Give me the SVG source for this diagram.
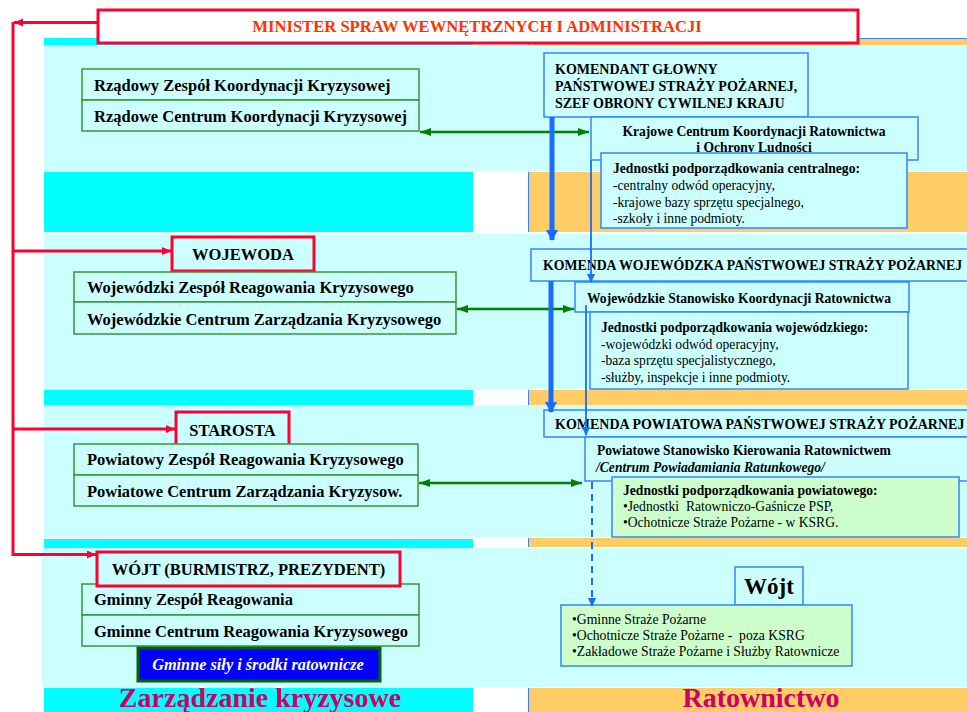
<svg xmlns="http://www.w3.org/2000/svg" width="967" height="712" viewBox="0 0 967 712">
<style>
.lc{fill:#CCFFFF}
.cy{fill:#00FFFF}
.or{fill:#FFCC66}
.gb{fill:#CCFFFF;stroke:#339933;stroke-width:1.5}
.rb{fill:#CCFFFF;stroke:#FF0033;stroke-width:3}
.bb{fill:#CCFFFF;stroke:#3385FF;stroke-width:1.5}
.bg{fill:#CCFFCC;stroke:#3385FF;stroke-width:1.5}
.t16{font:bold 16.5px "Liberation Serif","Times New Roman",serif;fill:#000}
.c14{font:bold 14px "Liberation Serif","Times New Roman",serif;fill:#000}
.b13{font:bold 13.6px "Liberation Serif","Times New Roman",serif;fill:#000}
.r13{font:13.6px "Liberation Serif","Times New Roman",serif;fill:#000;white-space:pre}
.r12{font:13.7px "Liberation Serif","Times New Roman",serif;fill:#000;white-space:pre}
.mid{text-anchor:middle}
.red{fill:none;stroke:#FF0033;stroke-width:3}
.grn{fill:none;stroke:#008000;stroke-width:2.5}
.blt{fill:none;stroke:#1A6CFF;stroke-width:5}
.bln{fill:none;stroke:#1A6CFF;stroke-width:1.8}
.bld{fill:none;stroke:#1A6CFF;stroke-width:2;stroke-dasharray:7 5}
.big{font:bold 28px "Liberation Serif","Times New Roman",serif;fill:#CC0066}
</style>
<defs>
<marker id="ar" markerUnits="userSpaceOnUse" markerWidth="10" markerHeight="10" refX="9" refY="4" orient="auto"><path d="M0,0 L9,4 L0,8 Z" fill="#FF0033"/></marker>
<marker id="ag" markerUnits="userSpaceOnUse" markerWidth="12" markerHeight="10" refX="11" refY="4" orient="auto-start-reverse"><path d="M0,0 L11,4 L0,8 Z" fill="#008000"/></marker>
<marker id="ab" markerUnits="userSpaceOnUse" markerWidth="12" markerHeight="12" refX="10" refY="6" orient="auto"><path d="M0,0 L11,6 L0,12 Z" fill="#1A6CFF"/></marker>
<marker id="abs" markerUnits="userSpaceOnUse" markerWidth="10" markerHeight="10" refX="8" refY="4" orient="auto"><path d="M0,0 L9,4 L0,8 Z" fill="#1A6CFF"/></marker>
</defs>
<rect width="967" height="712" fill="#FFFFFF"/>
<g id="background">
<rect class="lc" x="44" y="45" width="923" height="126"/>
<rect class="lc" x="44" y="234" width="923" height="155"/>
<rect class="lc" x="44" y="405" width="923" height="132"/>
<rect class="lc" x="42" y="548" width="925" height="139"/>
<rect class="cy" x="44" y="38" width="429" height="7"/>
<rect class="cy" x="44" y="172" width="429" height="60"/>
<rect class="cy" x="44" y="390" width="429" height="15"/>
<rect class="cy" x="44" y="539" width="429" height="9"/>
<rect class="cy" x="44" y="688" width="429" height="24"/>
<rect class="or" x="528" y="38" width="439" height="7"/>
<rect class="or" x="528" y="172" width="439" height="60"/>
<rect class="or" x="528" y="390" width="439" height="15"/>
<rect class="or" x="528" y="538" width="439" height="9"/>
<rect class="or" x="528" y="688" width="439" height="24"/>
<path d="M528,38.5 H967 M528.5,38 V45 M528.5,172 V232 M528.5,390 V405 M528.5,538 V547 M528.5,688 V712" stroke="#3385FF" stroke-width="1" fill="none"/>
<text class="big mid" x="260" y="707">Zarządzanie kryzysowe</text>
<text class="big mid" x="761" y="707">Ratownictwo</text>
</g>
<g id="minister">
<rect x="98" y="10" width="760" height="33" fill="#FFFFFF" stroke="#FF0033" stroke-width="3"/>
<text class="mid" x="477" y="32" style="font:bold 16.6px 'Liberation Serif','Times New Roman',serif;fill:#FF3300">MINISTER SPRAW WEWNĘTRZNYCH I ADMINISTRACJI</text>
</g>
<g id="rzadowy">
<rect class="gb" x="82" y="69" width="337" height="31"/>
<rect class="gb" x="82" y="100" width="337" height="31"/>
<text class="t16" x="94" y="91">Rządowy Zespół Koordynacji Kryzysowej</text>
<text class="t16" x="94" y="122">Rządowe Centrum Koordynacji Kryzysowej</text>
</g>
<g id="wojewoda">
<rect class="rb" x="172" y="237" width="142" height="34"/>
<text class="t16 mid" x="243" y="260">WOJEWODA</text>
</g>
<g id="wojewodzki">
<rect class="gb" x="74" y="272" width="382" height="30"/>
<rect class="gb" x="74" y="302" width="382" height="32"/>
<text class="t16" x="87" y="293">Wojewódzki Zespół Reagowania Kryzysowego</text>
<text class="t16" x="87" y="325">Wojewódzkie Centrum Zarządzania Kryzysowego</text>
</g>
<g id="starosta">
<rect class="rb" x="176" y="412" width="113" height="35"/>
<text class="t16 mid" x="232.5" y="436">STAROSTA</text>
</g>
<g id="powiatowy">
<rect class="gb" x="74" y="444" width="344" height="31"/>
<rect class="gb" x="74" y="475" width="344" height="31"/>
<text class="t16" x="87" y="465">Powiatowy Zespół Reagowania Kryzysowego</text>
<text class="t16" x="87" y="497">Powiatowe Centrum Zarządzania Kryzysow.</text>
</g>
<g id="gminny">
<rect class="gb" x="82" y="584" width="337" height="31"/>
<rect class="gb" x="82" y="615" width="337" height="31"/>
<text class="t16" x="94" y="605">Gminny Zespół Reagowania</text>
<text class="t16" x="94" y="637">Gminne Centrum Reagowania Kryzysowego</text>
</g>
<g id="wojt">
<rect class="rb" x="97" y="552" width="303" height="34"/>
<text class="t16 mid" x="248.5" y="575">WÓJT (BURMISTRZ, PREZYDENT)</text>
</g>
<g id="gminne-sily">
<rect x="138" y="648" width="242" height="33" fill="#0000FF" stroke="#006600" stroke-width="3"/>
<text class="mid" x="258" y="670" style="font:italic bold 16.3px 'Liberation Serif','Times New Roman',serif;fill:#FFFFFF">Gminne siły i środki ratownicze</text>
</g>
<g id="komendant">
<rect class="bb" x="544" y="53" width="264" height="64"/>
<text class="c14" x="555" y="74">KOMENDANT GŁOWNY</text>
<text class="c14" x="555" y="91">PAŃSTWOWEJ STRAŻY POŻARNEJ,</text>
<text class="c14" x="555" y="108">SZEF OBRONY CYWILNEJ KRAJU</text>
</g>
<g id="krajowe">
<rect class="bb" x="591" y="117" width="327" height="43"/>
<text class="b13 mid" x="754" y="136">Krajowe Centrum Koordynacji Ratownictwa</text>
<text class="b13 mid" x="754" y="152">i Ochrony Ludności</text>
</g>
<g id="jednostki-centralne">
<rect class="bb" x="601" y="153" width="306" height="75"/>
<text class="b13" x="613" y="173">Jednostki podporządkowania centralnego:</text>
<text class="r13" x="613" y="190">-centralny odwód operacyjny,</text>
<text class="r13" x="613" y="206.5">-krajowe bazy sprzętu specjalnego,</text>
<text class="r13" x="613" y="223">-szkoły i inne podmioty.</text>
</g>
<g id="komenda-wojewodzka">
<rect class="bb" x="531" y="249" width="440" height="32"/>
<text class="c14" x="543" y="270" style="font-size:13.8px">KOMENDA WOJEWÓDZKA PAŃSTWOWEJ STRAŻY POŻARNEJ</text>
</g>
<g id="stanowisko-wojewodzkie">
<rect class="bb" x="575" y="282" width="334" height="30"/>
<text class="b13" x="587" y="303">Wojewódzkie Stanowisko Koordynacji Ratownictwa</text>
</g>
<g id="jednostki-wojewodzkie">
<rect class="bb" x="590" y="312" width="318" height="77"/>
<text class="b13" x="601" y="332">Jednostki podporządkowania wojewódzkiego:</text>
<text class="r13" x="601" y="348.5">-wojewódzki odwód operacyjny,</text>
<text class="r13" x="601" y="365">-baza sprzętu specjalistycznego,</text>
<text class="r13" x="601" y="381.5">-służby, inspekcje i inne podmioty.</text>
</g>
<g id="komenda-powiatowa">
<rect class="bb" x="544" y="410" width="427" height="27"/>
<text class="c14" x="555" y="429">KOMENDA POWIATOWA PAŃSTWOWEJ STRAŻY POŻARNEJ</text>
</g>
<g id="stanowisko-powiatowe">
<rect class="bb" x="585" y="437" width="386" height="44"/>
<text class="b13" x="597" y="455">Powiatowe Stanowisko Kierowania Ratownictwem</text>
<text x="596" y="472" style="font:italic bold 13.6px 'Liberation Serif','Times New Roman',serif;fill:#000">/Centrum Powiadamiania Ratunkowego/</text>
</g>
<g id="jednostki-powiatowe">
<rect class="bg" x="612" y="477" width="347" height="60"/>
<text class="b13" x="623" y="495">Jednostki podporządkowania powiatowego:</text>
<text class="r13" x="623" y="511">•Jednostki  Ratowniczo-Gaśnicze PSP,</text>
<text class="r13" x="623" y="527">•Ochotnicze Straże Pożarne - w KSRG.</text>
</g>
<g id="wojt-ratownictwo">
<rect class="bb" x="735" y="567" width="68" height="38"/>
<text class="mid" x="769" y="594" style="font:bold 23px 'Liberation Serif','Times New Roman',serif;fill:#000">Wójt</text>
</g>
<g id="gminne-straze">
<rect class="bg" x="561" y="605" width="291" height="61"/>
<text class="r12" x="572" y="624">•Gminne Straże Pożarne</text>
<text class="r12" x="572" y="640">•Ochotnicze Straże Pożarne -  poza KSRG</text>
<text class="r12" x="572" y="656">•Zakładowe Straże Pożarne i Służby Ratownicze</text>
</g>
<g id="connectors">
<path class="red" d="M98,22.5 H14" marker-end="url(#ar)"/>
<path class="red" d="M13,22 V554.5 H96" marker-end="url(#ar)"/>
<path class="red" d="M13,251 H171" marker-end="url(#ar)"/>
<path class="red" d="M13,429 H175" marker-end="url(#ar)"/>
<path class="grn" d="M420,132 H589" marker-start="url(#ag)" marker-end="url(#ag)"/>
<path class="grn" d="M457,309 H574" marker-start="url(#ag)" marker-end="url(#ag)"/>
<path class="grn" d="M419,483 H582" marker-start="url(#ag)" marker-end="url(#ag)"/>
<path class="blt" d="M552,117 V240" marker-end="url(#ab)"/>
<path class="blt" d="M551,281 V412" marker-end="url(#ab)"/>
<path class="bln" d="M591,160 V282" marker-end="url(#abs)"/>
<path class="bln" d="M586,305 V435" marker-end="url(#abs)"/>
<path class="bld" d="M592,482 V606" marker-end="url(#abs)"/>
</g>
</svg>
